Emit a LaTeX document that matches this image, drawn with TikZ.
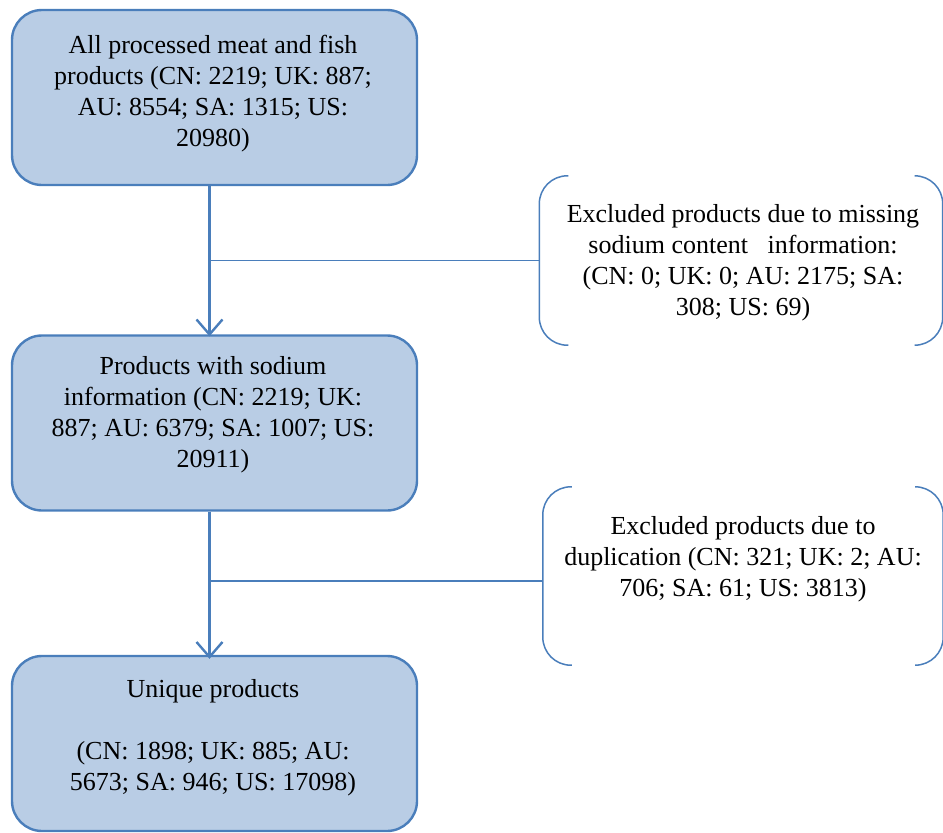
\documentclass[tikz,border=0pt]{standalone}
\usepackage{fontspec}
\setmainfont{Liberation Serif}
\usetikzlibrary{arrows.meta}
\definecolor{boxfill}{HTML}{B9CDE5}
\definecolor{boxline}{HTML}{4A7EBB}
\tikzset{
  flowbox/.style={draw=boxline, fill=boxfill, line width=2.4pt, rounded corners=30pt,
    minimum width=405pt, minimum height=175pt, inner sep=0pt},
  txt/.style={align=center, font=\fontsize{26pt}{31pt}\selectfont, inner sep=0pt},
  exbox/.style={minimum width=403pt, minimum height=169pt, inner sep=0pt},
  brk/.style={draw=boxline, line width=1.5pt, rounded corners=28pt},
  flowarrow/.style={draw=boxline, line width=2.4pt, -{Straight Barb[length=15pt, width=26pt, line width=2.4pt]}},
  thinline/.style={draw=boxline, line width=1.5pt}
}
\begin{document}
\begin{tikzpicture}[x=1pt, y=-1pt]
\useasboundingbox (0,0) rectangle (943,833);
% boxes
\node[flowbox] (b1) at (214.5,97.5) {};
\node[flowbox] (b2) at (214.5,423) {};
\node[flowbox] (b3) at (214.5,743.5) {};
\node[txt] (t1) at (213,94) {All processed meat and fish\\products (CN: 2219; UK: 887;\\AU: 8554; SA: 1315; US:\\20980)};
\node[txt] (t2) at (213,415) {Products with sodium\\information (CN: 2219; UK:\\887; AU: 6379; SA: 1007; US:\\20911)};
\node[txt] (t3) at (213,738) {Unique products\\[31pt](CN: 1898; UK: 885; AU:\\5673; SA: 946; US: 17098)};
% excluded brackets
\node[exbox] (e1) at (741,260.5) {};
\node[exbox, minimum width=400pt, minimum height=178pt] (e2) at (743,576) {};
\node[txt] (et1) at (743,262.5) {Excluded products due to missing\\sodium content\ \ \ information:\\(CN: 0; UK: 0; AU: 2175; SA:\\308; US: 69)};
\node[txt] (et2) at (743,559.5) {Excluded products due to\\duplication (CN: 321; UK: 2; AU:\\706; SA: 61; US: 3813)};
\foreach \e in {e1,e2}{
  \draw[brk] ([xshift=29pt]\e.north west) -- (\e.north west) -- (\e.south west) -- ([xshift=29pt]\e.south west);
  \draw[brk] ([xshift=-26pt]\e.north east) -- (\e.north east) -- (\e.south east) -- ([xshift=-26pt]\e.south east);
}
% connectors
\coordinate (j1) at ([xshift=-5pt]b1.south |- e1.west);
\coordinate (j2) at ([xshift=-5pt]b2.south |- 0,581);
\draw[flowarrow] ([xshift=-5pt]b1.south) -- ([xshift=-5pt,yshift=-2pt]b2.north);
\draw[flowarrow] ([xshift=-5pt]b2.south) -- ([xshift=-5pt,yshift=-4pt]b3.north);
\draw[thinline] (j1) -- (e1.west);
\draw[thinline] (j2) -- (e2.west |- j2);
\end{tikzpicture}
\end{document}
